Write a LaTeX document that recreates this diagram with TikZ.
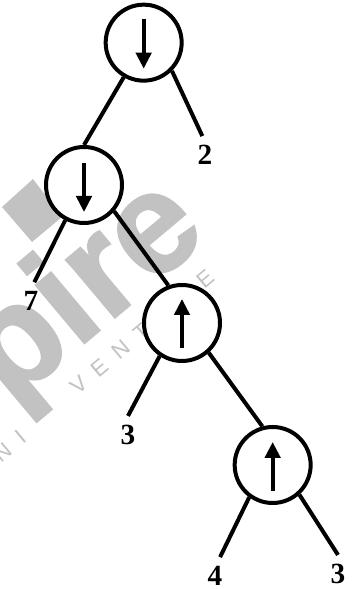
\documentclass[tikz,border=0pt]{standalone}
\usepackage{fontspec}
\setmainfont{Liberation Serif}
\setsansfont{Liberation Sans}
\usepackage{xcolor}
\usepackage{tikz}
\usetikzlibrary{arrows.meta}

\definecolor{markgray}{gray}{0.76}

\tikzset{
  opnode/.style={draw, circle, fill=white, line width=0.12cm, minimum size=2.28cm, inner sep=0pt},
  leaf/.style={inner xsep=0.1cm, inner ysep=0.27cm, font=\fontsize{25}{25}\selectfont\bfseries},
  link/.style={draw, line width=0.12cm},
  flow/.style={line width=0.11cm, -{Triangle[length=0.48cm, width=0.46cm]}},
  brandmark/.style={text=markgray, inner sep=0pt, rotate=40}
}

\begin{document}
\begin{tikzpicture}
\useasboundingbox (0,0) rectangle (10.62,17.67);

% watermark
\fill[markgray] (0.99,12.3) -- (0.06,11.46) -- (0.96,10.41) -- (1.86,11.16) -- cycle;
\node[brandmark, anchor=base, font=\fontsize{122}{122}\selectfont\bfseries\sffamily\addfontfeature{FakeBold=1.5}] (brand) at (3.31,8.03) {pire};
\node[brandmark, font=\fontsize{19}{19}\selectfont\sffamily\addfontfeature{LetterSpace=55}] (venture) at (4.26,7.71) {VENTURE};
\node[brandmark, anchor=east, font=\fontsize{19}{19}\selectfont\sffamily\addfontfeature{LetterSpace=55}] (uni) at (0.69,4.62) {UNI};

\node[opnode] (root) at (4.31,16.39) {};
\node[opnode] (left) at (2.52,12.12) {};
\node[opnode] (mid) at (5.46,7.98) {};
\node[opnode] (low) at (8.18,3.72) {};

\node[leaf] (two) at (6.15,13.02) {2};
\node[leaf] (seven) at (0.93,8.64) {7};
\node[leaf] (three) at (3.84,4.62) {3};
\node[leaf] (four) at (6.45,0.39) {4};
\node[leaf] (last) at (10.14,0.45) {3};

\draw[link] (root.240) -- (left.north);
\draw[link] (root.-45) -- (two.98);
\draw[link] (left.242) -- (seven.80);
\draw[link] (left.-41) -- (mid.110);
\draw[link] (mid.236) -- (three.north);
\draw[link] (mid.-48) -- (low.105);
\draw[link] (low.234) -- (four.75);
\draw[link] (low.-48) -- (last.north);

\draw[flow] ([yshift=0.72cm]root.center) -- ([yshift=-0.78cm]root.center);
\draw[flow] ([yshift=0.66cm]left.center) -- ([yshift=-0.81cm]left.center);
\draw[flow] ([yshift=-0.75cm]mid.center) -- ([yshift=0.72cm]mid.center);
\draw[flow] ([yshift=-0.78cm]low.center) -- ([yshift=0.69cm]low.center);

\end{tikzpicture}
\end{document}
